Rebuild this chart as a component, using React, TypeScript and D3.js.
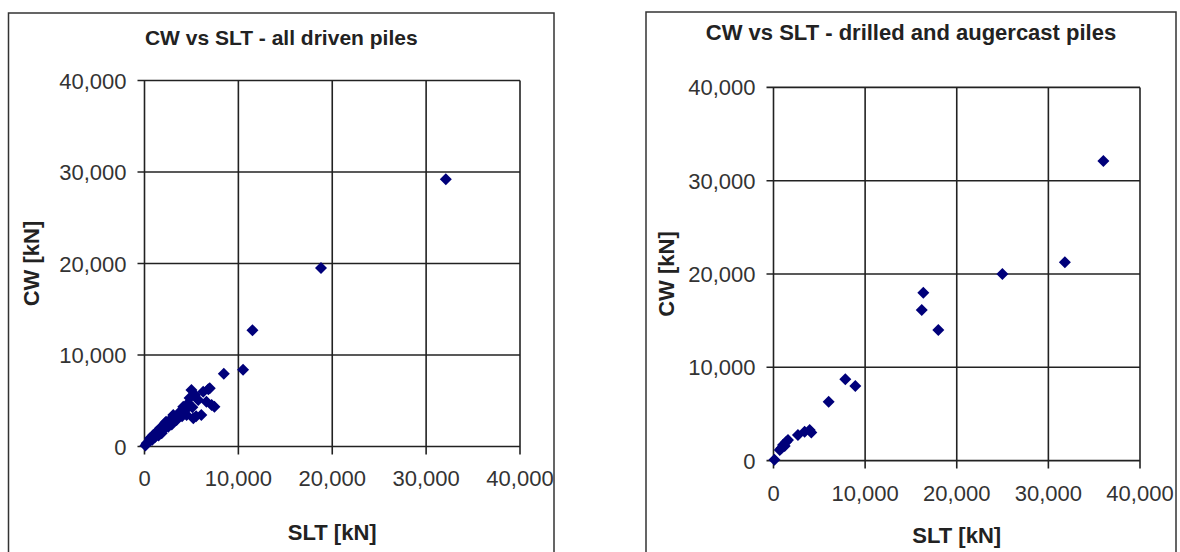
import React from "react";
import * as d3 from "d3";

// ---- Data ----
const ticks = [0, 10000, 20000, 30000, 40000];

// left chart: all driven piles  [SLT, CW]
const drivenSLT = [
  32100, 18800, 11500, 10500, 8450, 6800, 6250, 7150, 6050, 5000, 6950, 6600, 7450, 5200, 4650,
  3780, 2700, 1650, 940, 230, 3060, 4130, 2180, 1300, 585, 5370, 5720, 3420, 2530, 4490, 1830,
  100, 3300, 4000, 2900, 1500, 800, 5500, 4800, 2300, 3600, 2000, 1100, 4300, 5100,
];
const drivenCW = [
  29200, 19500, 12700, 8400, 7950, 6250, 5990, 4540, 3440, 6175, 6360, 4900, 4350, 3080, 4720,
  3800, 2900, 1990, 1260, 350, 3440, 4350, 2540, 1620, 900, 5630, 5080, 2900, 2160, 3440, 1440,
  100, 3100, 3300, 2400, 1200, 700, 3300, 5300, 2700, 3500, 1800, 1000, 3900, 4300,
];

// right chart: drilled and augercast piles  [SLT, CW]
const drilledSLT = [
  100, 680, 850, 1040, 1220, 1400, 1580, 2670, 3400, 3950, 4130, 6020, 7840, 8930, 16350, 16180,
  17990, 24980, 31800, 36000,
];
const drilledCW = [
  100, 1140, 1320, 1670, 1560, 2030, 2210, 2740, 3100, 3280, 3000, 6310, 8710, 8000, 18000, 16140,
  14000, 20000, 21250, 32100,
];

const fmt = d3.format(",");
const FONT = "'Liberation Sans', Arial, sans-serif";

type ChartProps = {
  title: string;
  xs: number[];
  ys: number[];
  frame: [number, number, number, number];
  plot: [number, number, number, number]; // x0, x1, y0(bottom), y1(top)
  titleY: number;
  titleSize: number;
  xLabelY: number;
  yLabelX: number;
  tickLabelY: number;
};

function Chart(p: ChartProps) {
  const [fx0, fy0, fx1, fy1] = p.frame;
  const [px0, px1, pyb, pyt] = p.plot;
  const x = d3.scaleLinear().domain([0, 40000]).range([px0, px1]);
  const y = d3.scaleLinear().domain([0, 40000]).range([pyb, pyt]);
  const sym = d3.symbol(d3.symbolSquare, 72)();
  const cx = (fx0 + fx1) / 2;
  return (
    <g>
      <rect x={fx0} y={fy0} width={fx1 - fx0} height={fy1 - fy0} fill="#fff" stroke="#333" strokeWidth={1.5} />
      <text x={cx} y={p.titleY} textAnchor="middle" fontFamily={FONT} fontWeight="bold" fontSize={p.titleSize} fill="#222">
        {p.title}
      </text>
      {ticks.map((t) => (
        <g key={"gx" + t}>
          <line x1={x(t)} x2={x(t)} y1={y(40000)} y2={y(0) + 8} stroke="#222" strokeWidth={1.6} />
          <line x1={x(0) - 7} x2={x(40000)} y1={y(t)} y2={y(t)} stroke="#222" strokeWidth={1.6} />
          <text x={x(t)} y={p.tickLabelY} textAnchor="middle" fontFamily={FONT} fontSize={22} fill="#333">
            {fmt(t)}
          </text>
          <text x={x(0) - 18} y={y(t) + 8} textAnchor="end" fontFamily={FONT} fontSize={22} fill="#333">
            {fmt(t)}
          </text>
        </g>
      ))}
      {p.xs.map((v, i) => (
        <path key={i} d={sym} transform={`translate(${x(v)},${y(p.ys[i])}) rotate(45)`} fill="#00007a" />
      ))}
      <text x={(px0 + px1) / 2} y={p.xLabelY} textAnchor="middle" fontFamily={FONT} fontWeight="bold" fontSize={22} fill="#222">
        SLT [kN]
      </text>
      <text
        transform={`translate(${p.yLabelX},${(pyb + pyt) / 2}) rotate(-90)`}
        textAnchor="middle"
        dominantBaseline="central"
        fontFamily={FONT}
        fontWeight="bold"
        fontSize={22}
        fill="#222"
      >
        CW [kN]
      </text>
    </g>
  );
}

export default function App() {
  return (
    <svg width={1180} height={552} style={{ position: "absolute", left: 0, top: 0, background: "#fff" }}>
      <Chart
        title="CW vs SLT - all driven piles"
        xs={drivenSLT}
        ys={drivenCW}
        frame={[8.5, 13, 554, 553]}
        plot={[144.5, 520, 446.5, 80.5]}
        titleY={45}
        titleSize={21}
        xLabelY={540}
        yLabelX={31}
        tickLabelY={486}
      />
      <Chart
        title="CW vs SLT - drilled and augercast piles"
        xs={drilledSLT}
        ys={drilledCW}
        frame={[646, 12, 1176, 553]}
        plot={[773.5, 1140, 460.6, 87.4]}
        titleY={40}
        titleSize={22}
        xLabelY={543}
        yLabelX={666}
        tickLabelY={501}
      />
    </svg>
  );
}
